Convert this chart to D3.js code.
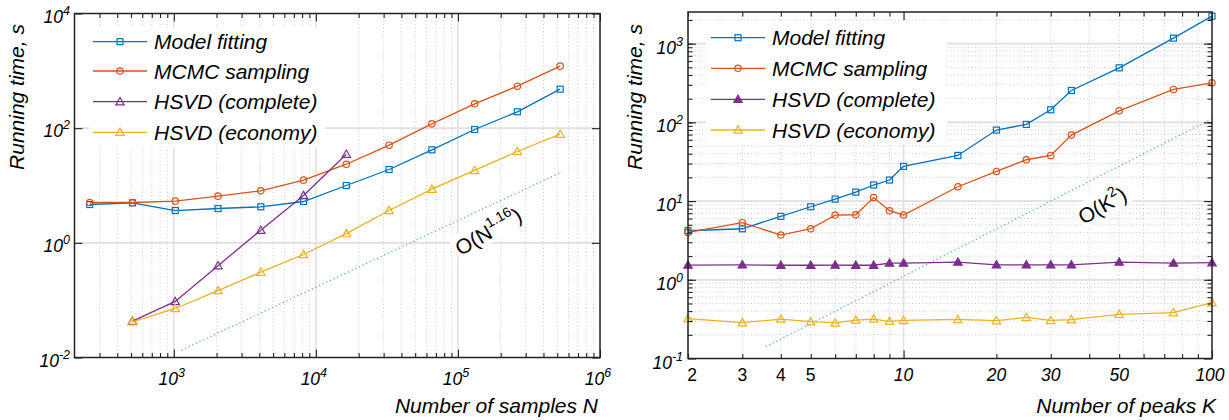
<!DOCTYPE html>
<html><head><meta charset="utf-8">
<script src="https://cdn.jsdelivr.net/npm/d3@7"></script>
<style>
body{margin:0;background:#fff}
svg{display:block}
text{font-family:"Liberation Sans",Arial,Helvetica,sans-serif;fill:#000}
</style>
</head><body>
<svg id="c" width="1229" height="420"></svg>
<script>
// ---------------- DATA ----------------
const seriesNames = ['Model fitting','MCMC sampling','HSVD (complete)','HSVD (economy)'];

// Left panel: running time vs number of samples N
const samplesN      = [256,512,1024,2048,4096,8192,16384,32768,65536,131072,262144,524288];
const samplesModel  = [4.66,4.98,3.66,3.97,4.25,5.26,10.0,19.0,41.9,94.8,193,479];
const samplesMCMC   = [5.05,5.05,5.33,6.52,8.07,12.4,23.5,50.5,119,266,540,1206];
const samplesHcompN = [512,1024,2048,4096,8192,16384];
const samplesHcomp  = [0.043,0.095,0.40,1.66,6.7,35.2];
const samplesHecoN  = [512,1024,2048,4096,8192,16384,32768,65536,131072,262144,524288];
const samplesHeco   = [0.042,0.0716,0.147,0.308,0.626,1.45,3.66,8.63,18.3,39.2,78.6];
const samplesRefN   = [1130,540000];
const samplesRef    = [0.0134,17.3];
const samplesXTicks = [1e3,1e4,1e5,1e6];
const samplesXExp   = ['3','4','5','6'];
const samplesYTicks = [1e-2,1,1e2,1e4];
const samplesYExp   = ['-2','0','2','4'];
const samplesRefBase = 'O(N', samplesRefSup = '1.16';

// Right panel: running time vs number of peaks K
const peaksK      = [2,3,4,5,6,7,8,9,10,15,20,25,30,35,50,75,100];
const peaksModel  = [4.2,4.45,6.39,8.47,10.6,13.0,16.0,18.5,27.6,38.0,79.8,94.2,144.5,254,493,1175,2234];
const peaksMCMC   = [4.0,5.31,3.70,4.45,6.64,6.70,11.1,7.54,6.64,15.2,23.8,33.5,38.0,68.9,140,262,318];
const peaksHcomp  = [1.54,1.55,1.53,1.53,1.54,1.53,1.53,1.63,1.63,1.68,1.55,1.55,1.55,1.55,1.68,1.63,1.65];
const peaksHeco   = [0.321,0.285,0.317,0.294,0.283,0.308,0.317,0.297,0.305,0.314,0.302,0.333,0.305,0.311,0.364,0.382,0.512];
const peaksRefK   = [3.57,100];
const peaksRef    = [0.141,111];
const peaksXTicks = [2,3,4,5,10,20,30,50,100];
const peaksYTicks = [0.1,1,10,100,1000];
const peaksYExp   = ['-1','0','1','2','3'];
const peaksRefBase = 'O(K', peaksRefSup = '2';

// ---------------- DRAWING ----------------
const svg = d3.select('#c');
const colors = ['#0072BD','#D95319','#7E2F8E','#EDB120'];
const markers = ['square','circle','triangle','triangle'];

function logRange(a, b) { // minor values 2..9 x 10^k within (a,b)
  const out = [];
  for (let e = Math.floor(Math.log10(a)); e <= Math.ceil(Math.log10(b)); e++) {
    for (let m = 1; m <= 9; m++) { const v = m * Math.pow(10, e); if (v > a * 1.0001 && v < b * 0.9999) out.push(v); }
  }
  return out;
}

function drawMarker(sel, type, cx, cy, color, filled) {
  if (type === 'square') {
    sel.append('rect').attr('x', cx - 3).attr('y', cy - 3).attr('width', 6).attr('height', 6)
      .attr('fill', filled ? color : 'none').attr('stroke', color).attr('stroke-width', 1.2);
  } else if (type === 'circle') {
    sel.append('circle').attr('cx', cx).attr('cy', cy).attr('r', 3.2)
      .attr('fill', filled ? color : 'none').attr('stroke', color).attr('stroke-width', 1.2);
  } else {
    const s = 4.2;
    sel.append('path').attr('d', `M${cx},${cy - s}L${cx + s},${cy + s * 0.75}L${cx - s},${cy + s * 0.75}Z`)
      .attr('fill', filled ? color : 'none').attr('stroke', color).attr('stroke-width', 1.2);
  }
}

function supText(sel, base, sup, size, supSize, raise) {
  sel.append('tspan').text(base);
  sel.append('tspan').attr('font-size', supSize).attr('dy', -raise).text(sup);
}

function drawPanel(p) {
  const g = svg.append('g');
  const x = d3.scaleLog().domain(p.xDomain).range([p.x0, p.x1]);
  const y = d3.scaleLog().domain(p.yDomain).range([p.y1, p.y0]);

  // grid
  const grid = g.append('g');
  grid.selectAll('.gxm').data(p.xMinorGrid).join('line')
    .attr('x1', d => x(d)).attr('x2', d => x(d)).attr('y1', p.y0).attr('y2', p.y1)
    .attr('stroke', '#c4c4c4').attr('stroke-width', 0.9).attr('stroke-dasharray', '1,2.5');
  grid.selectAll('.gym').data(p.yMinorGrid).join('line')
    .attr('y1', d => y(d)).attr('y2', d => y(d)).attr('x1', p.x0).attr('x2', p.x1)
    .attr('stroke', '#c4c4c4').attr('stroke-width', 0.9).attr('stroke-dasharray', '1,2.5');
  grid.selectAll('.gxM').data(p.xMajorGrid).join('line')
    .attr('x1', d => x(d)).attr('x2', d => x(d)).attr('y1', p.y0).attr('y2', p.y1)
    .attr('stroke', '#e0e0e0').attr('stroke-width', 1.5);
  grid.selectAll('.gyM').data(p.yMajorGrid).join('line')
    .attr('y1', d => y(d)).attr('y2', d => y(d)).attr('x1', p.x0).attr('x2', p.x1)
    .attr('stroke', '#e0e0e0').attr('stroke-width', 1.8);

  // legend background
  g.append('rect').attr('x', p.legBox[0]).attr('y', p.legBox[1]).attr('width', p.legBox[2]).attr('height', p.legBox[3]).attr('fill', '#fff');

  // reference line
  g.append('line')
    .attr('x1', x(p.refX[0])).attr('y1', y(p.refY[0])).attr('x2', x(p.refX[1])).attr('y2', y(p.refY[1]))
    .attr('stroke', '#5fb0d0').attr('stroke-width', 1.3).attr('stroke-dasharray', '1.3,2.7');

  // reference label
  const lg = g.append('g').attr('transform', `translate(${p.refLabel[0]},${p.refLabel[1]}) rotate(${p.refLabel[2]})`);
  const bg = lg.append('rect').attr('fill', '#fff');
  const lt = lg.append('text').attr('text-anchor', 'middle').attr('font-size', 21);
  lt.append('tspan').text(p.refBase);
  lt.append('tspan').attr('font-size', 14).attr('dy', -10).text(p.refSup);
  lt.append('tspan').attr('dy', 10).text(')');
  const bb = lt.node().getBBox();
  bg.attr('x', bb.x - 2).attr('y', bb.y + 2).attr('width', bb.width + 4).attr('height', bb.height - 2);

  // series
  p.series.forEach((s, i) => {
    const pts = s.x.map((v, j) => [x(v), y(s.y[j])]);
    g.append('path').attr('d', d3.line()(pts)).attr('fill', 'none').attr('stroke', colors[i]).attr('stroke-width', 1.3);
    const mg = g.append('g');
    pts.forEach(pt => drawMarker(mg, markers[i], pt[0], pt[1], colors[i], s.filled));
  });

  // legend
  seriesNames.forEach((name, i) => {
    const cy = p.legRows[i];
    g.append('line').attr('x1', p.legX).attr('x2', p.legX + 54).attr('y1', cy).attr('y2', cy)
      .attr('stroke', colors[i]).attr('stroke-width', 1.3);
    drawMarker(g, markers[i], p.legX + 27, cy, colors[i], p.series[i].filled);
    g.append('text').attr('x', p.legX + 61).attr('y', cy + 7.5).attr('font-size', 21)
      .attr('font-style', 'italic').text(name);
  });

  // axes box + ticks
  const axC = '#222';
  const mk = (axis, tr, vals, len) => {
    const a = g.append('g').attr('transform', tr).call(axis.tickValues(vals).tickSize(-len).tickSizeOuter(0).tickFormat(''));
    a.select('.domain').remove();
    a.selectAll('line').attr('stroke', axC).attr('stroke-width', 1.1);
  };
  const xMaj = p.xTickMajor, xMin = p.xTickMinor, yMaj = p.yTickMajor, yMin = p.yTickMinor;
  mk(d3.axisBottom(x), `translate(0,${p.y1})`, xMaj, 8);
  mk(d3.axisBottom(x), `translate(0,${p.y1})`, xMin, 4.5);
  mk(d3.axisTop(x), `translate(0,${p.y0})`, xMaj, 8);
  mk(d3.axisTop(x), `translate(0,${p.y0})`, xMin, 4.5);
  mk(d3.axisLeft(y), `translate(${p.x0},0)`, yMaj, 8);
  mk(d3.axisLeft(y), `translate(${p.x0},0)`, yMin, 4.5);
  mk(d3.axisRight(y), `translate(${p.x1},0)`, yMaj, 8);
  mk(d3.axisRight(y), `translate(${p.x1},0)`, yMin, 4.5);
  g.append('rect').attr('x', p.x0).attr('y', p.y0).attr('width', p.x1 - p.x0).attr('height', p.y1 - p.y0)
    .attr('fill', 'none').attr('stroke', axC).attr('stroke-width', 1.5);

  // tick labels
  p.xLabels.forEach(t => {
    const tx = g.append('text').attr('x', x(t.v) + (t.dx || 0)).attr('y', p.xLabelY).attr('font-size', 17.5)
      .attr('text-anchor', 'middle').attr('font-style', t.italic ? 'italic' : 'normal');
    if (t.exp !== undefined) supText(tx, '10', t.exp, 17.5, 12.5, 8); else tx.text(t.text);
  });
  p.yLabels.forEach(t => {
    const ty = g.append('text').attr('x', p.yLabelX).attr('y', y(t.v) + p.yLabelDy).attr('font-size', 17.5)
      .attr('text-anchor', 'end').attr('font-style', 'italic');
    supText(ty, '10', t.exp, 17.5, 12.5, 8);
  });

  // axis titles
  g.append('text').attr('transform', `translate(${p.yTitle[0]},${p.yTitle[1]}) rotate(-90)`)
    .attr('text-anchor', 'middle').attr('font-size', 21).attr('font-style', 'italic').text('Running time, s');
  g.append('text').attr('x', p.xTitleX).attr('y', 413).attr('text-anchor', 'end')
    .attr('font-size', 21).attr('font-style', 'italic').text(p.xTitle);
}

// Left panel
const lXMinor = logRange(200, 1e6).filter(v => !samplesXTicks.includes(v));
drawPanel({
  x0: 74.5, x1: 600, y0: 13.5, y1: 357.5,
  xDomain: [200, 1e6], yDomain: [1e-2, 1e4],
  xMinorGrid: lXMinor, yMinorGrid: [],
  xMajorGrid: samplesXTicks.slice(0, 3), yMajorGrid: samplesYTicks.slice(1, 3),
  xTickMajor: samplesXTicks, xTickMinor: lXMinor, yTickMajor: samplesYTicks, yTickMinor: [],
  legBox: [89, 28, 236, 119], legX: 93, legRows: [41.7, 71, 101.7, 132.3],
  refX: samplesRefN, refY: samplesRef, refBase: samplesRefBase, refSup: samplesRefSup,
  refLabel: [492, 238, -30],
  series: [
    {x: samplesN, y: samplesModel}, {x: samplesN, y: samplesMCMC},
    {x: samplesHcompN, y: samplesHcomp}, {x: samplesHecoN, y: samplesHeco}
  ],
  xLabels: samplesXTicks.map((v, i) => ({v, exp: samplesXExp[i], italic: true, dx: -2})),
  xLabelY: 385,
  yLabels: samplesYTicks.map((v, i) => ({v, exp: samplesYExp[i]})),
  yLabelX: 70, yLabelDy: 9,
  yTitle: [24, 97], xTitle: 'Number of samples N', xTitleX: 598
});

// Right panel
const rXMinor = [3,4,5,6,7,8,9,20,30,40,50,60,70,80,90];
const rYMinor = logRange(0.1, 2500);
drawPanel({
  x0: 688, x1: 1212, y0: 12, y1: 358.5,
  xDomain: [2, 100], yDomain: [0.1, 2524],
  xMinorGrid: rXMinor, yMinorGrid: rYMinor,
  xMajorGrid: [10], yMajorGrid: [1, 10, 100, 1000],
  xTickMajor: [10, 100], xTickMinor: [2,3,4,5,6,7,8,9,20,30,40,50,60,70,80,90],
  yTickMajor: peaksYTicks, yTickMinor: rYMinor,
  legBox: [706, 21, 241, 124], legX: 711, legRows: [37.7, 68.3, 99.3, 130],
  refX: peaksRefK, refY: peaksRef, refBase: peaksRefBase, refSup: peaksRefSup,
  refLabel: [1106, 212, -30],
  series: [
    {x: peaksK, y: peaksModel}, {x: peaksK, y: peaksMCMC},
    {x: peaksK, y: peaksHcomp, filled: true}, {x: peaksK, y: peaksHeco}
  ],
  xLabels: peaksXTicks.map(v => ({v, text: String(v), italic: v >= 10, dx: v === 2 ? 4 : (v === 100 ? -2 : 0)})),
  xLabelY: 381,
  yLabels: peaksYTicks.map((v, i) => ({v, exp: peaksYExp[i]})),
  yLabelX: 683, yLabelDy: 10,
  yTitle: [642, 97], xTitle: 'Number of peaks K', xTitleX: 1216
});
</script>
</body></html>
